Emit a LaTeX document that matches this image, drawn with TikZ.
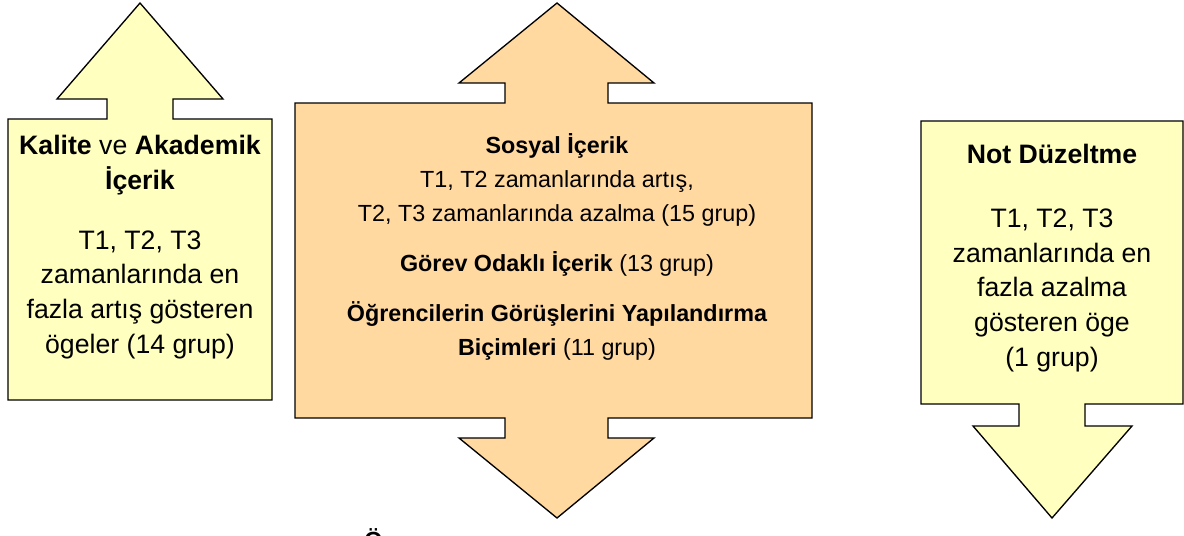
\documentclass[tikz,border=0pt]{standalone}
\usepackage{fontspec}
\setmainfont{Liberation Sans}
\definecolor{paleyellow}{HTML}{FFFFBF}
\definecolor{peach}{HTML}{FFD9A0}

\begin{document}
\begin{tikzpicture}[x=0.75pt,y=-0.75pt,
	arrowshape/.style={draw=black, line width=1pt, line join=miter},
	txt/.style={align=center, anchor=north, inner sep=0pt, font=\fontsize{20}{26}\selectfont},
	midtxt/.style={txt, font=\fontsize{17.5}{25.5}\selectfont}]
	\useasboundingbox (0,0) rectangle (1184,535);
	% left arrow, up
	\draw[arrowshape, fill=paleyellow] (8,400) -- (8,119) -- (107,119) -- (107,99) -- (57,99)
	-- (140,3) -- (223,99) -- (173,99) -- (173,119) -- (272,119) -- (272,400) -- cycle;
	% middle arrow, both ways
	\draw[arrowshape, fill=peach] (295,103) -- (505,103) -- (505,83) -- (459,83) -- (557,3)
	-- (654,83) -- (608,83) -- (608,103) -- (812,103) -- (812,418) -- (608,418) -- (608,438)
	-- (654,438) -- (557,518) -- (459,438) -- (505,438) -- (505,418) -- (295,418) -- cycle;
	% right arrow, down
	\draw[arrowshape, fill=paleyellow] (921,121) -- (1183,121) -- (1183,404) -- (1085,404)
	-- (1085,426) -- (1132,426) -- (1052,518) -- (973,426) -- (1019,426) -- (1019,404)
	-- (921,404) -- cycle;
	% texts
	\node[txt] (kalite) at (140,135) {\textbf{Kalite} ve \textbf{Akademik}\\ \textbf{İçerik}\\[19pt]
		T1, T2, T3\\ zamanlarında en\\ fazla artış gösteren\\ ögeler (14 grup)};
	\node[midtxt] (sosyal) at (557,133) {\textbf{Sosyal İçerik}\\ T1, T2 zamanlarında artış,\\
		T2, T3 zamanlarında azalma (15 grup)\\[12pt] \textbf{Görev Odaklı İçerik} (13 grup)\\[12pt]
		\textbf{Öğrencilerin Görüşlerini Yapılandırma}\\ \textbf{Biçimleri} (11 grup)};
	\node[txt] (notduz) at (1052,144) {\textbf{Not Düzeltme}\\[22pt] T1, T2, T3\\ zamanlarında en\\
		fazla azalma\\ gösteren öge\\ (1 grup)};
	\node[anchor=north west, inner sep=0pt, font=\fontsize{17.5}{25.5}\selectfont\bfseries] (kesik) at (364,528) {Ö};
\end{tikzpicture}
\end{document}
